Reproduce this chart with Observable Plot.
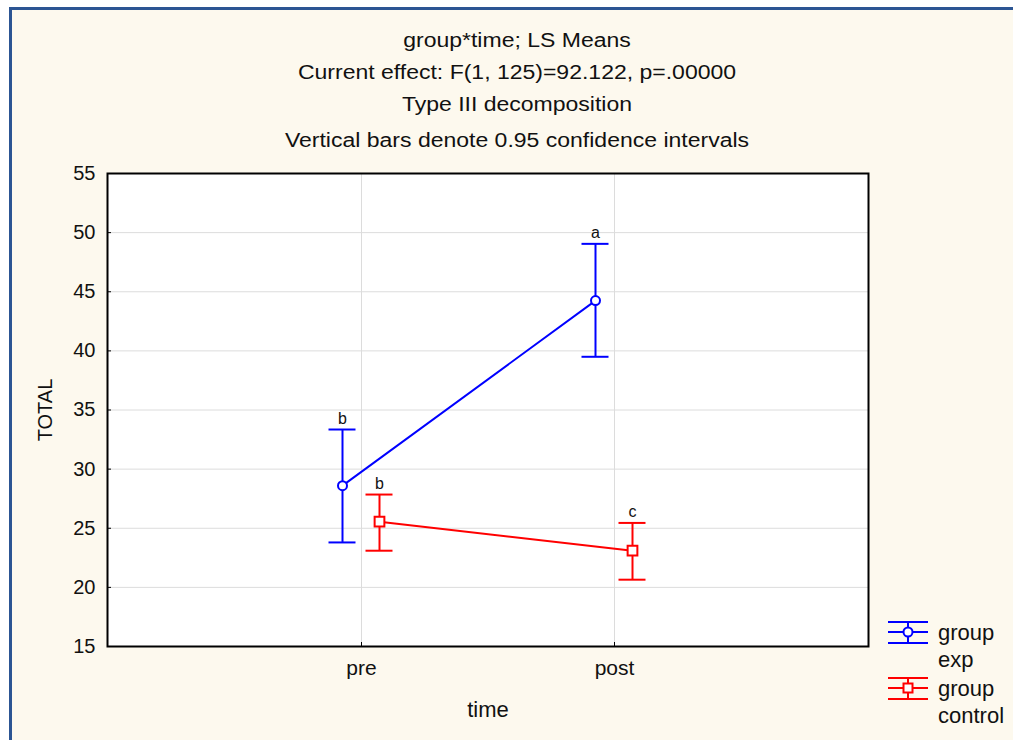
<!DOCTYPE html>
<html><head><meta charset="utf-8">
<script src="https://cdn.jsdelivr.net/npm/d3@7"></script>
<script src="https://cdn.jsdelivr.net/npm/@observablehq/plot@0.6"></script>
<style>
html,body{margin:0;padding:0;background:#fff;}
#page{position:relative;width:1013px;height:740px;overflow:hidden;font-family:"Liberation Sans",Arial,sans-serif;color:#111;}
#panel{position:absolute;left:9px;top:7px;right:0;bottom:0;background:#fdf9ee;border-left:3px solid #2c5593;border-top:3px solid #2c5593;}
.title{position:absolute;left:0;width:1034px;text-align:center;font-size:20px;line-height:20px;white-space:nowrap;transform:scaleX(1.15);transform-origin:517px 0;}
#chart{position:absolute;left:0;top:0;}
#legend{position:absolute;left:884px;top:616px;}
.lg{position:absolute;left:54px;font-size:22px;line-height:22px;white-space:nowrap;}
</style></head>
<body>
<div id="page">
  <div id="panel"></div>
  <div class="title" style="top:30px">group*time; LS Means</div>
  <div class="title" style="top:62px">Current effect: F(1, 125)=92.122, p=.00000</div>
  <div class="title" style="top:94px">Type III decomposition</div>
  <div class="title" style="top:130px">Vertical bars denote 0.95 confidence intervals</div>
  <div id="chart"></div>
  <div id="legend"></div>
</div>
<script>
const times = ["pre", "post"];
const yTicks = [15, 20, 25, 30, 35, 40, 45, 50, 55];
const groupNames = ["exp", "control"];
const groupColors = ["#0000ff", "#ff0000"];
const expMean = [28.6, 44.25];
const expLo = [23.8, 39.5];
const expHi = [33.35, 49.05];
const expLetter = ["b", "a"];
const ctrlMean = [25.55, 23.1];
const ctrlLo = [23.1, 20.65];
const ctrlHi = [27.85, 25.45];
const ctrlLetter = ["b", "c"];

const rows = (mean, lo, hi, letter) => times.map((t, i) => ({time: t, mean: mean[i], lo: lo[i], hi: hi[i], letter: letter[i]}));
const series = [
  {name: groupNames[0], color: groupColors[0], dx: -19, symbol: "circle", r: 4.5, data: rows(expMean, expLo, expHi, expLetter)},
  {name: groupNames[1], color: groupColors[1], dx: 18, symbol: "square", r: 5.5, data: rows(ctrlMean, ctrlLo, ctrlHi, ctrlLetter)}
];

const W = 1013, H = 740, ML = 107, MR = 145, MT = 173, MB = 94;
const chart = Plot.plot({
  width: W, height: H,
  marginLeft: ML, marginRight: MR, marginTop: MT, marginBottom: MB,
  style: {background: "transparent", fontFamily: "'Liberation Sans', Arial, sans-serif", color: "#111"},
  x: {type: "point", domain: times, padding: 1},
  y: {domain: [15, 55]},
  marks: [
    Plot.frame({fill: "white", stroke: null}),
    Plot.gridY(yTicks, {stroke: "#dcdcdc", strokeOpacity: 1}),
    Plot.gridX(times, {stroke: "#dcdcdc", strokeOpacity: 1}),
    ...series.flatMap(s => [
      Plot.line(s.data, {x: "time", y: "mean", stroke: s.color, strokeWidth: 2, dx: s.dx}),
      Plot.ruleX(s.data, {x: "time", y1: "lo", y2: "hi", stroke: s.color, strokeWidth: 2, dx: s.dx}),
      Plot.ruleY(s.data, {x1: "time", x2: "time", y: "hi", stroke: s.color, strokeWidth: 2, dx: s.dx, insetLeft: -13.5, insetRight: -13.5}),
      Plot.ruleY(s.data, {x1: "time", x2: "time", y: "lo", stroke: s.color, strokeWidth: 2, dx: s.dx, insetLeft: -13.5, insetRight: -13.5}),
      Plot.dot(s.data, {x: "time", y: "mean", symbol: s.symbol, r: s.r, stroke: s.color, fill: "white", strokeWidth: 2, dx: s.dx}),
      Plot.text(s.data, {x: "time", y: "hi", text: "letter", dy: -11, dx: s.dx, fontSize: 16, fill: "#111"})
    ]),
    Plot.frame({stroke: "#000", strokeWidth: 2}),
    Plot.axisY(yTicks, {tickSize: -4, tickPadding: 16, fontSize: 20, label: null, stroke: "#000"}),
    Plot.axisX(times, {tickSize: -4, tickPadding: 18, fontSize: 21, label: null, stroke: "#000"}),
    Plot.text(["TOTAL"], {frameAnchor: "left", textAnchor: "middle", dx: -62, rotate: -90, fontSize: 20, fill: "#111"}),
    Plot.text(["time"], {frameAnchor: "bottom", textAnchor: "middle", dy: 70, fontSize: 22, fill: "#111"})
  ]
});
document.getElementById("chart").appendChild(chart);

// legend
const lg = document.getElementById("legend");
let html = "";
series.forEach((s, i) => {
  const top = i * 56;
  const sym = s.symbol === "circle"
    ? `<circle cx="24" cy="16" r="4.5" fill="white" stroke="${s.color}" stroke-width="2"/>`
    : `<rect x="19.5" y="11.5" width="9" height="9" fill="white" stroke="${s.color}" stroke-width="2"/>`;
  html += `<svg style="position:absolute;left:0;top:${top}px" width="50" height="32">
    <line x1="4" x2="44" y1="6" y2="6" stroke="${s.color}" stroke-width="2"/>
    <line x1="4" x2="44" y1="16" y2="16" stroke="${s.color}" stroke-width="2"/>
    <line x1="4" x2="44" y1="27" y2="27" stroke="${s.color}" stroke-width="2"/>
    <line x1="24" x2="24" y1="6" y2="27" stroke="${s.color}" stroke-width="2"/>
    ${sym}</svg>
    <div class="lg" style="top:${top + 6}px">group</div>
    <div class="lg" style="top:${top + 33}px">${s.name}</div>`;
});
lg.innerHTML = html;
</script>
</body></html>
